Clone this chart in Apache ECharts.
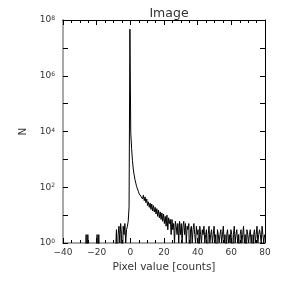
<!DOCTYPE html>
<html>
<head>
<meta charset="utf-8">
<script src="https://cdn.jsdelivr.net/npm/echarts@6/dist/echarts.min.js"></script>
<style>
  html, body { margin: 0; padding: 0; background: #fff; }
  #chart { width: 283px; height: 283px; }
</style>
</head>
<body>
<div id="chart"></div>
<script>
// histogram bins, half a count wide, centred on multiples of 0.5
const binStart = -30
const binWidth = 0.5
// counts for pixel values -30 .. -0.5
const countsNeg = [
  0, 0, 0, 0, 0, 0, 0, 0, 2, 0,
  2, 0, 0, 0, 0, 0, 0, 0, 0, 0,
  0, 2, 0, 2, 0, 0, 0, 0, 0, 0,
  0, 0, 0, 0, 0, 0, 0, 0, 0, 0,
  0, 0, 0, 0, 3, 0, 2, 4, 1, 5,
  2, 0, 4, 2, 5, 1, 3, 4, 6, 20,
]
// counts for pixel values 0 .. 9.5
const countsCore = [
  47000000, 9000, 2500, 900, 450, 280, 190, 140, 105, 90,
  72, 58, 66, 48, 55, 38, 52, 33, 45, 28,
]
// counts for pixel values 10 .. 80
const countsTail = [
  38, 22, 30, 19, 27, 16, 25, 14, 22, 13,
  19, 11, 17, 9, 15, 8, 13, 7, 12, 6,
  11, 5, 9, 4, 10, 3, 8, 5, 7, 2,
  7, 3, 5, 1, 6, 4, 2, 5, 1, 6,
  2, 5, 1, 4, 6, 2, 5, 1, 4, 3,
  5, 0, 3, 4, 1, 3, 5, 2, 1, 4,
  2, 3, 0, 4, 2, 1, 3, 2, 4, 1,
  2, 3, 0, 2, 4, 1, 2, 3, 1, 2,
  4, 1, 2, 0, 3, 2, 1, 2, 3, 1,
  2, 4, 1, 2, 0, 2, 3, 1, 2, 1,
  3, 2, 0, 2, 4, 1, 2, 3, 1, 2,
  0, 2, 3, 1, 2, 4, 1, 2, 0, 3,
  2, 1, 2, 3, 1, 2, 0, 2, 3, 1,
  2, 4, 1, 2, 3, 2, 1, 4, 2, 1,
  2,
]
const xTicks = [-40, -20, 0, 20, 40, 60, 80]

const counts = countsNeg.concat(countsCore, countsTail)
// empty bins fall below the plot and get clipped, like the original
const histData = counts.map((c, i) => [binStart + i * binWidth, c > 0 ? c : 0.1])

const font = 'DejaVu Sans'
const txt = '#333'

const chart = echarts.init(document.getElementById('chart'))
chart.setOption({
  animation: false,
  backgroundColor: '#fff',
  title: {
    text: 'Image',
    left: 164,
    top: 2,
    textAlign: 'center',
    textStyle: { fontFamily: font, fontSize: 12.5, fontWeight: 'normal', color: txt },
  },
  grid: { left: 63, right: 18, top: 20, bottom: 40 },
  xAxis: [
    {
      type: 'value',
      position: 'bottom',
      min: xTicks[0],
      max: xTicks[xTicks.length - 1],
      interval: 20,
      axisLine: { onZero: false, lineStyle: { color: '#a8a8a8', width: 2 } },
      axisTick: { inside: true, length: 5, lineStyle: { color: '#000' } },
      minorTick: { show: true, splitNumber: 4, length: 3, lineStyle: { color: '#000' } },
      splitLine: { show: false },
      axisLabel: {
        margin: 5,
        fontFamily: font,
        fontSize: 9,
        color: txt,
        formatter: v => String(v).replace('-', '\u2212'),
      },
      name: 'Pixel value [counts]',
      nameLocation: 'middle',
      nameGap: 16,
      nameTextStyle: { fontFamily: font, fontSize: 10.5, color: txt },
    },
    {
      type: 'value',
      position: 'top',
      min: xTicks[0],
      max: xTicks[xTicks.length - 1],
      interval: 20,
      axisLine: { onZero: false, lineStyle: { color: '#000', width: 1 } },
      axisTick: { inside: true, length: 5, lineStyle: { color: '#000' } },
      minorTick: { show: true, splitNumber: 4, length: 3, lineStyle: { color: '#000' } },
      splitLine: { show: false },
      axisLabel: { show: false },
    },
  ],
  yAxis: [
    {
      type: 'log',
      logBase: 10,
      min: 1,
      max: 1e8,
      splitNumber: 8,
      position: 'left',
      axisLine: { onZero: false, lineStyle: { color: '#a8a8a8', width: 2 } },
      axisTick: { inside: true, length: 5, lineStyle: { color: '#000' } },
      splitLine: { show: false },
      axisLabel: {
        margin: 8,
        formatter: v => {
          const e = Math.round(Math.log10(v))
          return e % 2 === 0 ? '{b|10}{e|' + e + '}' : ''
        },
        rich: {
          b: { fontFamily: font, fontSize: 9, color: txt },
          e: { fontFamily: font, fontSize: 6, color: txt, verticalAlign: 'top' },
        },
      },
      name: 'N',
      nameLocation: 'middle',
      nameGap: 30,
      nameTextStyle: { fontFamily: font, fontSize: 10.5, color: txt },
    },
    {
      type: 'log',
      logBase: 10,
      min: 1,
      max: 1e8,
      splitNumber: 8,
      position: 'right',
      axisLine: { onZero: false, lineStyle: { color: '#000', width: 1 } },
      axisTick: { inside: true, length: 5, lineStyle: { color: '#000' } },
      splitLine: { show: false },
      axisLabel: { show: false },
    },
  ],
  series: [
    {
      name: 'Image',
      type: 'line',
      xAxisIndex: 0,
      yAxisIndex: 0,
      step: 'middle',
      symbol: 'none',
      clip: true,
      lineStyle: { color: '#000', width: 1 },
      data: histData,
    },
  ],
})
</script>
</body>
</html>
